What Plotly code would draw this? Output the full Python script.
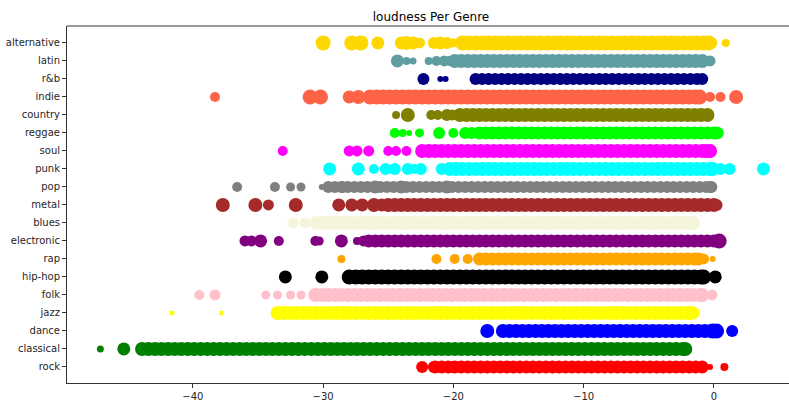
import plotly.graph_objects as go

# genres, bottom row first
genres = ["rock", "classical", "dance", "jazz", "folk", "hip-hop", "rap", "electronic", "blues",
          "metal", "pop", "punk", "soul", "reggae", "country", "indie", "r&b", "latin", "alternative"]
colors = ["#FF0000", "#008000", "#0000FF", "#FFFF00", "#FFC0CB", "#000000", "#FFA500", "#800080", "#F5F5DC",
          "#A52A2A", "#808080", "#00FFFF", "#FF00FF", "#00FF00", "#808000", "#FF6347", "#000080", "#5F9EA0", "#FFD700"]

x_ticks = [-40, -30, -20, -10, 0]
x_tick_labels = ["\u221240", "\u221230", "\u221220", "\u221210", "0"]

# dense loudness values per genre
rock_band = [-21.4,-20.9,-20.4,-19.9,-19.4,-18.9,-18.4,-17.9,-17.4,-16.9,-16.4,-15.9,-15.4,-14.9,-14.4,-13.9,-13.4,-12.9,-12.4,-11.9,-11.4,-10.9,-10.4,-9.9,-9.4,-8.9,-8.4,-7.9,-7.4,-6.9,-6.4,-5.9,-5.4,-4.9,-4.4,-3.9,-3.4,-2.9,-2.4,-1.9,-1.4,-0.9]
classical_band = [-43.9,-43.4,-42.9,-42.4,-41.9,-41.4,-40.9,-40.4,-39.9,-39.4,-38.9,-38.4,-37.9,-37.4,-36.9,-36.4,-35.9,-35.4,-34.9,-34.4,-33.9,-33.4,-32.9,-32.4,-31.9,-31.4,-30.9,-30.4,-29.9,-29.4,-28.9,-28.4,-27.9,-27.4,-26.9,-26.4,-25.9,-25.4,-24.9,-24.4,-23.9,-23.4,-22.9,-22.4,-21.9,-21.4,-20.9,-20.4,-19.9,-19.4,-18.9,-18.4,-17.9,-17.4,-16.9,-16.4,-15.9,-15.4,-14.9,-14.4,-13.9,-13.4,-12.9,-12.4,-11.9,-11.4,-10.9,-10.4,-9.9,-9.4,-8.9,-8.4,-7.9,-7.4,-6.9,-6.4,-5.9,-5.4,-4.9,-4.4,-3.9,-3.4,-2.9,-2.4,-2.2]
dance_band = [-16.2,-15.7,-15.2,-14.7,-14.2,-13.7,-13.2,-12.7,-12.2,-11.7,-11.2,-10.7,-10.2,-9.7,-9.2,-8.7,-8.2,-7.7,-7.2,-6.7,-6.2,-5.7,-5.2,-4.7,-4.2,-3.7,-3.2,-2.7,-2.2,-1.7,-1.2,-0.7,-0.2]
jazz_band = [-33.0,-32.5,-32.0,-31.5,-31.0,-30.5,-30.0,-29.5,-29.0,-28.5,-28.0,-27.5,-27.0,-26.5,-26.0,-25.5,-25.0,-24.5,-24.0,-23.5,-23.0,-22.5,-22.0,-21.5,-21.0,-20.5,-20.0,-19.5,-19.0,-18.5,-18.0,-17.5,-17.0,-16.5,-16.0,-15.5,-15.0,-14.5,-14.0,-13.5,-13.0,-12.5,-12.0,-11.5,-11.0,-10.5,-10.0,-9.5,-9.0,-8.5,-8.0,-7.5,-7.0,-6.5,-6.0,-5.5,-5.0,-4.5,-4.0,-3.5,-3.0,-2.5,-2.0,-1.8]
folk_band = [-30.6,-30.1,-29.6,-29.1,-28.6,-28.1,-27.6,-27.1,-26.6,-26.1,-25.6,-25.1,-24.6,-24.1,-23.6,-23.1,-22.6,-22.1,-21.6,-21.1,-20.6,-20.1,-19.6,-19.1,-18.6,-18.1,-17.6,-17.1,-16.6,-16.1,-15.6,-15.1,-14.6,-14.1,-13.6,-13.1,-12.6,-12.1,-11.6,-11.1,-10.6,-10.1,-9.6,-9.1,-8.6,-8.1,-7.6,-7.1,-6.6,-6.1,-5.6,-5.1,-4.6,-4.1,-3.6,-3.1,-2.6,-2.1,-1.6,-1.1,-0.9]
hiphop_band = [-28.0,-27.5,-27.0,-26.5,-26.0,-25.5,-25.0,-24.5,-24.0,-23.5,-23.0,-22.5,-22.0,-21.5,-21.0,-20.5,-20.0,-19.5,-19.0,-18.5,-18.0,-17.5,-17.0,-16.5,-16.0,-15.5,-15.0,-14.5,-14.0,-13.5,-13.0,-12.5,-12.0,-11.5,-11.0,-10.5,-10.0,-9.5,-9.0,-8.5,-8.0,-7.5,-7.0,-6.5,-6.0,-5.5,-5.0,-4.5,-4.0,-3.5,-3.0,-2.5,-2.0,-1.5,-1.0,-0.8]
rap_band = [-18.0,-17.5,-17.0,-16.5,-16.0,-15.5,-15.0,-14.5,-14.0,-13.5,-13.0,-12.5,-12.0,-11.5,-11.0,-10.5,-10.0,-9.5,-9.0,-8.5,-8.0,-7.5,-7.0,-6.5,-6.0,-5.5,-5.0,-4.5,-4.0,-3.5,-3.0,-2.5,-2.0,-1.5,-1.2]
electronic_band = [-26.5,-26.0,-25.5,-25.0,-24.5,-24.0,-23.5,-23.0,-22.5,-22.0,-21.5,-21.0,-20.5,-20.0,-19.5,-19.0,-18.5,-18.0,-17.5,-17.0,-16.5,-16.0,-15.5,-15.0,-14.5,-14.0,-13.5,-13.0,-12.5,-12.0,-11.5,-11.0,-10.5,-10.0,-9.5,-9.0,-8.5,-8.0,-7.5,-7.0,-6.5,-6.0,-5.5,-5.0,-4.5,-4.0,-3.5,-3.0,-2.5,-2.0,-1.5,-1.0,-0.5,0.0,0.3]
blues_band = [-30.5,-30.0,-29.5,-29.0,-28.5,-28.0,-27.5,-27.0,-26.5,-26.0,-25.5,-25.0,-24.5,-24.0,-23.5,-23.0,-22.5,-22.0,-21.5,-21.0,-20.5,-20.0,-19.5,-19.0,-18.5,-18.0,-17.5,-17.0,-16.5,-16.0,-15.5,-15.0,-14.5,-14.0,-13.5,-13.0,-12.5,-12.0,-11.5,-11.0,-10.5,-10.0,-9.5,-9.0,-8.5,-8.0,-7.5,-7.0,-6.5,-6.0,-5.5,-5.0,-4.5,-4.0,-3.5,-3.0,-2.5,-2.0,-1.6]
metal_band = [-25.0,-24.5,-24.0,-23.5,-23.0,-22.5,-22.0,-21.5,-21.0,-20.5,-20.0,-19.5,-19.0,-18.5,-18.0,-17.5,-17.0,-16.5,-16.0,-15.5,-15.0,-14.5,-14.0,-13.5,-13.0,-12.5,-12.0,-11.5,-11.0,-10.5,-10.0,-9.5,-9.0,-8.5,-8.0,-7.5,-7.0,-6.5,-6.0,-5.5,-5.0,-4.5,-4.0,-3.5,-3.0,-2.5,-2.0,-1.5,-1.0,-0.5,0.0]
pop_band = [-29.6,-29.1,-28.6,-28.1,-27.6,-27.1,-26.6,-26.1,-25.6,-25.1,-24.6,-24.1,-23.6,-23.1,-22.6,-22.1,-21.6,-21.1,-20.6,-20.1,-19.6,-19.1,-18.6,-18.1,-17.6,-17.1,-16.6,-16.1,-15.6,-15.1,-14.6,-14.1,-13.6,-13.1,-12.6,-12.1,-11.6,-11.1,-10.6,-10.1,-9.6,-9.1,-8.6,-8.1,-7.6,-7.1,-6.6,-6.1,-5.6,-5.1,-4.6,-4.1,-3.6,-3.1,-2.6,-2.1,-1.6,-1.1,-0.6,-0.3]
punk_band = [-20.3,-19.8,-19.3,-18.8,-18.3,-17.8,-17.3,-16.8,-16.3,-15.8,-15.3,-14.8,-14.3,-13.8,-13.3,-12.8,-12.3,-11.8,-11.3,-10.8,-10.3,-9.8,-9.3,-8.8,-8.3,-7.8,-7.3,-6.8,-6.3,-5.8,-5.3,-4.8,-4.3,-3.8,-3.3,-2.8,-2.3,-1.8,-1.3,-0.8,-0.3,-0.1]
soul_band = [-22.4,-21.9,-21.4,-20.9,-20.4,-19.9,-19.4,-18.9,-18.4,-17.9,-17.4,-16.9,-16.4,-15.9,-15.4,-14.9,-14.4,-13.9,-13.4,-12.9,-12.4,-11.9,-11.4,-10.9,-10.4,-9.9,-9.4,-8.9,-8.4,-7.9,-7.4,-6.9,-6.4,-5.9,-5.4,-4.9,-4.4,-3.9,-3.4,-2.9,-2.4,-1.9,-1.4,-0.9,-0.6]
reggae_band = [-18.0,-17.5,-17.0,-16.5,-16.0,-15.5,-15.0,-14.5,-14.0,-13.5,-13.0,-12.5,-12.0,-11.5,-11.0,-10.5,-10.0,-9.5,-9.0,-8.5,-8.0,-7.5,-7.0,-6.5,-6.0,-5.5,-5.0,-4.5,-4.0,-3.5,-3.0,-2.5,-2.0,-1.5,-1.0,-0.5,0.0,0.2]
country_band = [-19.5,-19.0,-18.5,-18.0,-17.5,-17.0,-16.5,-16.0,-15.5,-15.0,-14.5,-14.0,-13.5,-13.0,-12.5,-12.0,-11.5,-11.0,-10.5,-10.0,-9.5,-9.0,-8.5,-8.0,-7.5,-7.0,-6.5,-6.0,-5.5,-5.0,-4.5,-4.0,-3.5,-3.0,-2.5,-2.0,-1.5,-1.0,-0.5]
indie_band = [-26.4,-25.9,-25.4,-24.9,-24.4,-23.9,-23.4,-22.9,-22.4,-21.9,-21.4,-20.9,-20.4,-19.9,-19.4,-18.9,-18.4,-17.9,-17.4,-16.9,-16.4,-15.9,-15.4,-14.9,-14.4,-13.9,-13.4,-12.9,-12.4,-11.9,-11.4,-10.9,-10.4,-9.9,-9.4,-8.9,-8.4,-7.9,-7.4,-6.9,-6.4,-5.9,-5.4,-4.9,-4.4,-3.9,-3.4,-2.9,-2.4,-1.9,-1.4,-1.1]
rnb_band = [-18.3,-17.8,-17.3,-16.8,-16.3,-15.8,-15.3,-14.8,-14.3,-13.8,-13.3,-12.8,-12.3,-11.8,-11.3,-10.8,-10.3,-9.8,-9.3,-8.8,-8.3,-7.8,-7.3,-6.8,-6.3,-5.8,-5.3,-4.8,-4.3,-3.8,-3.3,-2.8,-2.3,-1.8,-1.3,-0.9]
latin_band = [-19.9,-19.4,-18.9,-18.4,-17.9,-17.4,-16.9,-16.4,-15.9,-15.4,-14.9,-14.4,-13.9,-13.4,-12.9,-12.4,-11.9,-11.4,-10.9,-10.4,-9.9,-9.4,-8.9,-8.4,-7.9,-7.4,-6.9,-6.4,-5.9,-5.4,-4.9,-4.4,-3.9,-3.4,-2.9,-2.4,-1.9,-1.4,-0.9]
alternative_band = [-19.3,-18.8,-18.3,-17.8,-17.3,-16.8,-16.3,-15.8,-15.3,-14.8,-14.3,-13.8,-13.3,-12.8,-12.3,-11.8,-11.3,-10.8,-10.3,-9.8,-9.3,-8.8,-8.3,-7.8,-7.3,-6.8,-6.3,-5.8,-5.3,-4.8,-4.3,-3.8,-3.3,-2.8,-2.3,-1.8,-1.3,-0.8,-0.4]

# sparse loudness values and their weight (marker size) per genre
rock_out = [-22.4, -21.5, -20.1, -0.3, 0.8]
rock_w = [12, 12, 12, 6, 8]
classical_out = [-47.1, -45.3]
classical_w = [7, 13]
dance_out = [-17.4, -0.1, 0.2, 1.4]
dance_w = [14, 15, 15, 12]
jazz_out = [-41.6, -37.8, -33.5, -1.6]
jazz_w = [5, 5, 14, 13]
folk_out = [-39.5, -38.3, -34.4, -33.5, -32.5, -31.7, -0.15]
folk_w = [10, 11, 9, 9, 9, 9, 11]
hiphop_out = [-32.9, -30.1, -28.0, -27.0, -26.0, 0.1]
hiphop_w = [13, 13, 14, 14, 14, 13]
rap_out = [-28.6, -21.3, -19.9, -18.9, -0.8, -0.1]
rap_w = [8, 10, 10, 10, 11, 6]
electronic_out = [-36.0, -35.5, -34.8, -33.4, -30.6, -30.3, -28.6, -27.4, -26.9, -24.5, -22.0, 0.4]
electronic_w = [11, 11, 13, 10, 10, 9, 13, 8, 11, 12, 12, 15]
blues_out = [-32.3, -31.4]
blues_w = [11, 11]
metal_out = [-37.7, -35.2, -34.2, -32.1, -28.8, -27.8, -27.0, -26.1, -25.5, 0.2]
metal_w = [14, 14, 11, 14, 13, 13, 13, 14, 13, 12]
pop_out = [-36.6, -33.7, -32.5, -31.7, -30.1, -28.5, -26.0, -24.0, -20.5, -0.2]
pop_w = [10, 10, 9, 9, 6, 12, 13, 13, 13, 12]
punk_out = [-29.5, -27.3, -26.1, -25.2, -24.5, -23.5, -23.0, -22.5, -20.9, 0.5, 1.2, 3.8]
punk_w = [13, 13, 10, 12, 12, 12, 10, 12, 12, 12, 12, 13]
soul_out = [-33.1, -28.0, -27.4, -26.5, -25.0, -24.4, -23.6, -0.3]
soul_w = [10, 11, 11, 11, 10, 10, 10, 14]
reggae_out = [-24.5, -23.9, -23.4, -22.6, -21.1, -20.0, -19.1, -18.6, 0.3]
reggae_w = [10, 8, 6, 9, 12, 10, 12, 12, 12]
country_out = [-24.4, -23.5, -21.7, -21.2, -20.5, -20.1]
country_w = [8, 14, 10, 10, 12, 11]
indie_out = [-38.3, -31.0, -30.2, -28.0, -27.3, -0.3, 0.5, 1.7]
indie_w = [10, 15, 15, 13, 14, 10, 10, 14]
rnb_out = [-22.3, -21.0, -20.6]
rnb_w = [12, 6, 6]
latin_out = [-24.3, -23.6, -23.1, -21.9, -21.3, -20.7, -20.3, -0.3]
latin_w = [13, 8, 7, 8, 10, 11, 10, 11]
alternative_out = [-30.0, -27.8, -27.1, -25.8, -24.0, -23.6, -23.1, -22.6, -21.5, -21.0, -20.5, -20.0, -0.2, 0.9]
alternative_w = [15, 15, 15, 13, 13, 14, 13, 11, 12, 13, 12, 9, 12, 8]

bands = [rock_band, classical_band, dance_band, jazz_band, folk_band, hiphop_band, rap_band,
         electronic_band, blues_band, metal_band, pop_band, punk_band, soul_band, reggae_band,
         country_band, indie_band, rnb_band, latin_band, alternative_band]
outs = [rock_out, classical_out, dance_out, jazz_out, folk_out, hiphop_out, rap_out, electronic_out,
        blues_out, metal_out, pop_out, punk_out, soul_out, reggae_out, country_out, indie_out,
        rnb_out, latin_out, alternative_out]
weights = [rock_w, classical_w, dance_w, jazz_w, folk_w, hiphop_w, rap_w, electronic_w, blues_w,
           metal_w, pop_w, punk_w, soul_w, reggae_w, country_w, indie_w, rnb_w, latin_w, alternative_w]
band_sizes = [13, 14, 14, 14, 14, 15, 13, 13, 14, 14, 12, 14, 14, 13, 14, 15, 12, 14, 15]

fig = go.Figure()
for i, g in enumerate(genres):
    fig.add_trace(go.Scatter(x=bands[i], y=[g] * len(bands[i]), mode="markers",
                             marker=dict(color=colors[i], size=band_sizes[i], opacity=1, line=dict(width=0)),
                             showlegend=False, hoverinfo="x"))
    fig.add_trace(go.Scatter(x=outs[i], y=[g] * len(outs[i]), mode="markers",
                             marker=dict(color=colors[i], size=weights[i], opacity=1, line=dict(width=0)),
                             showlegend=False, hoverinfo="x"))

axis_font = dict(family="DejaVu Sans", size=10, color="#262626")
fig.update_layout(
    width=789, height=403,
    margin=dict(l=67, r=0, t=26, b=20, autoexpand=False),
    paper_bgcolor="white", plot_bgcolor="white",
    title=dict(text="loudness Per Genre", x=431 / 789, xanchor="center", xref="container",
               y=1 - 17 / 403, yanchor="middle", yref="container", automargin=False,
               font=dict(family="DejaVu Sans", size=12, color="#000000")),
    xaxis=dict(range=[-49.66, 5.76], tickvals=x_ticks, ticktext=x_tick_labels, automargin=False,
               showgrid=False, zeroline=False, showline=True, linecolor="#333333", linewidth=1,
               ticks="outside", ticklen=4, tickcolor="#333333", tickfont=axis_font),
    yaxis=dict(type="category", categoryorder="array", categoryarray=genres, range=[-0.89, 18.94],
               automargin=False,
               showgrid=False, zeroline=False, showline=True, linecolor="#333333", linewidth=1,
               ticks="outside", ticklen=4, tickcolor="#333333", tickfont=axis_font),
    shapes=[dict(type="line", xref="paper", yref="paper", x0=0, x1=1, y0=1, y1=1,
                 line=dict(color="#333333", width=1))],
)

fig.write_html("out.html", config={"displayModeBar": False},
               post_script="document.body.style.margin='0';document.body.style.padding='0';")
